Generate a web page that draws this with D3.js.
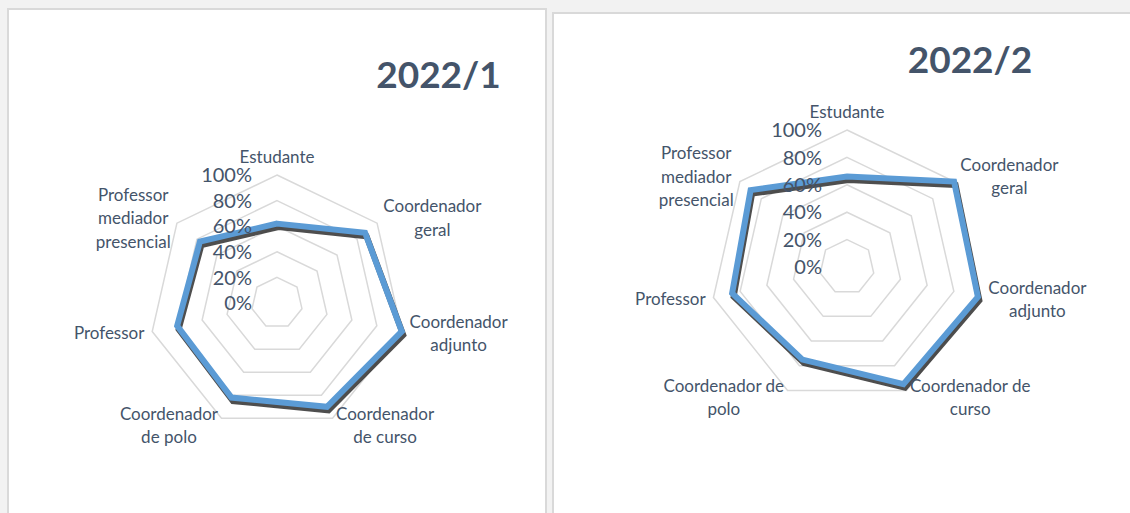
<!DOCTYPE html>
<html>
<head>
<meta charset="utf-8">
<script src="https://cdn.jsdelivr.net/npm/d3@7"></script>
<style>
  html, body { margin: 0; padding: 0; background: #f2f2f2; }
  svg { display: block; font-family: Lato, 'Open Sans', sans-serif; }
</style>
</head>
<body>
<svg id="chart" width="1130" height="513"></svg>
<script>
// categories, clockwise from the top
const categories = ['Estudante', 'Coordenador geral', 'Coordenador adjunto',
  'Coordenador de curso', 'Coordenador de polo', 'Professor',
  'Professor mediador presencial'];

// wrapped axis labels as they appear in each chart
const labels2022_1 = [['Estudante'], ['Coordenador', 'geral'], ['Coordenador', 'adjunto'],
  ['Coordenador', 'de curso'], ['Coordenador', 'de polo'], ['Professor'],
  ['Professor', 'mediador', 'presencial']];
const labels2022_2 = [['Estudante'], ['Coordenador', 'geral'], ['Coordenador', 'adjunto'],
  ['Coordenador de', 'curso'], ['Coordenador de', 'polo'], ['Professor'],
  ['Professor', 'mediador', 'presencial']];

const values2022_1 = [0.62, 0.88, 1.00, 0.90, 0.82, 0.80, 0.77];
const values2022_2 = [0.66, 1.00, 0.98, 0.95, 0.75, 0.86, 0.90];

const ticks = [0, 0.2, 0.4, 0.6, 0.8, 1.0];
const titles = ['2022/1', '2022/2'];

const textColor = '#44546a';
const gridColor = '#d9d9d9';
const lineColor = '#5b9bd5';

const svg = d3.select('#chart');

const defs = svg.append('defs');
defs.append('filter')
  .attr('id', 'shadowBlur')
  .attr('x', '-10%').attr('y', '-10%')
  .attr('width', '120%').attr('height', '120%')
  .append('feGaussianBlur')
  .attr('stdDeviation', 0.7);

// panels
const panels = [
  {x: 8, y: 9, w: 538, h: 520},
  {x: 553, y: 13, w: 590, h: 520}
];
svg.selectAll('rect.panel')
  .data(panels)
  .enter().append('rect')
  .attr('class', 'panel')
  .attr('x', d => d.x)
  .attr('y', d => d.y)
  .attr('width', d => d.w)
  .attr('height', d => d.h)
  .style('fill', '#ffffff')
  .style('stroke', gridColor)
  .style('stroke-width', 2);

const charts = [
  {title: titles[0], values: values2022_1, labels: labels2022_1,
    cx: 277, cy: 303, radius: 128, titleX: 438.5, titleY: 88},
  {title: titles[1], values: values2022_2, labels: labels2022_2,
    cx: 847, cy: 267, radius: 137, titleX: 970, titleY: 73}
];

function drawRadar(cfg) {
  const g = svg.append('g')
    .attr('transform', `translate(${cfg.cx}, ${cfg.cy})`);

  const r = d3.scaleLinear().domain([0, 1]).range([0, cfg.radius]);
  const angle = d3.scaleLinear()
    .domain([0, categories.length])
    .range([0, 2 * Math.PI]);

  const radial = d3.lineRadial()
    .angle((d, i) => angle(i))
    .radius(d => r(d))
    .curve(d3.curveLinearClosed);

  // rings
  g.selectAll('path.ring')
    .data(ticks.filter(t => t > 0))
    .enter().append('path')
    .attr('class', 'ring')
    .attr('d', t => radial(categories.map(() => t)))
    .style('fill', 'none')
    .style('stroke', gridColor)
    .style('stroke-width', 1.5);

  // shadow then series line
  g.append('path')
    .attr('d', radial(cfg.values))
    .attr('transform', 'translate(1.5, 3.5)')
    .attr('filter', 'url(#shadowBlur)')
    .style('fill', 'none')
    .style('stroke', '#3a3a3a')
    .style('stroke-opacity', 0.9)
    .style('stroke-width', 6)
    .style('stroke-linejoin', 'miter');

  g.append('path')
    .attr('d', radial(cfg.values))
    .style('fill', 'none')
    .style('stroke', lineColor)
    .style('stroke-width', 6)
    .style('stroke-linejoin', 'miter');

  // value axis labels
  g.selectAll('text.tick')
    .data(ticks)
    .enter().append('text')
    .attr('class', 'tick')
    .attr('x', -25)
    .attr('y', t => -r(t))
    .attr('dy', '0.36em')
    .attr('text-anchor', 'end')
    .style('font-size', '20px')
    .style('fill', textColor)
    .text(d3.format('.0%'));

  // category labels
  const pad = 8;
  const lh = 23.5;
  cfg.labels.forEach((lines, i) => {
    const a = angle(i);
    const dx = Math.sin(a);
    const dy = -Math.cos(a);
    const ax = dx * (cfg.radius + pad);
    const ay = dy * (cfg.radius + pad);

    const lg = g.append('g');
    const texts = lines.map(line => lg.append('text')
      .attr('text-anchor', 'middle')
      .style('font-size', '17px')
      .style('fill', textColor)
      .text(line));
    const w = d3.max(texts, t => t.node().getComputedTextLength());

    let mid;
    if (Math.abs(dx) < 0.1) mid = ax;
    else if (dx > 0) mid = ax + w / 2;
    else mid = ax - w / 2;

    const n = lines.length;
    texts.forEach((t, j) => {
      let y;
      if (dy < -0.9) y = ay - 4 - (n - 1 - j) * lh;
      else y = ay + (j - (n - 1) / 2) * lh + 6;
      t.attr('x', mid).attr('y', y);
    });
  });

  svg.append('text')
    .attr('x', cfg.titleX)
    .attr('y', cfg.titleY)
    .attr('text-anchor', 'middle')
    .style('font-size', '37px')
    .style('font-weight', 'bold')
    .style('fill', textColor)
    .text(cfg.title);
}

charts.forEach(drawRadar);
</script>
</body>
</html>
